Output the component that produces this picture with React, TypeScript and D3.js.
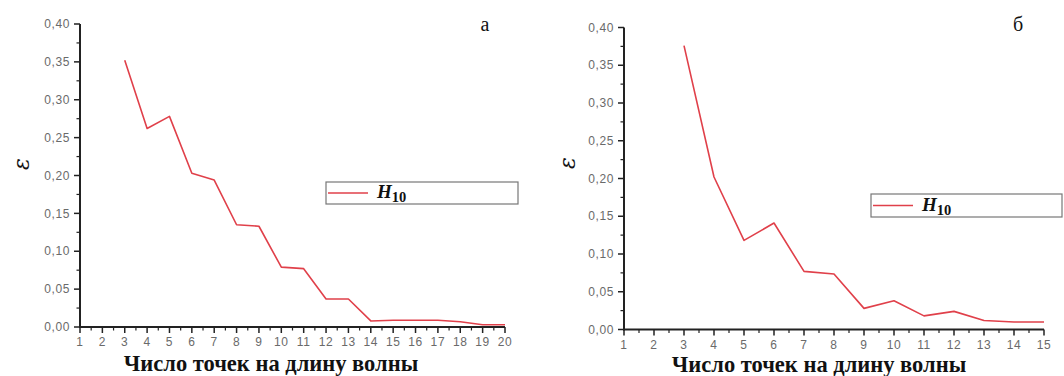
import React from "react";
import * as d3 from "d3";

const xA = [3, 4, 5, 6, 7, 8, 9, 10, 11, 12, 13, 14, 15, 16, 17, 18, 19, 20];
const yA = [0.352, 0.262, 0.278, 0.203, 0.194, 0.135, 0.133, 0.079, 0.077, 0.037, 0.037, 0.008, 0.009, 0.009, 0.009, 0.007, 0.003, 0.003];
const xB = [3, 4, 5, 6, 7, 8, 9, 10, 11, 12, 13, 14, 15];
const yB = [0.376, 0.202, 0.118, 0.141, 0.077, 0.0735, 0.028, 0.038, 0.018, 0.024, 0.012, 0.010, 0.010];
const yTicks = [0, 0.05, 0.1, 0.15, 0.2, 0.25, 0.3, 0.35, 0.4];
const xTitle = "Число точек на длину волны";
const yTitle = "ε";
const seriesName = "H";
const seriesSub = "10";

const fmt = (v: number) => v.toFixed(2).replace(".", ",");

type PanelProps = {
  xs: number[]; ys: number[]; xMax: number;
  x0: number; x1: number; y0: number; y1: number;
  letter: string; letterX: number;
  leg: { x: number; y: number; w: number; h: number };
  yLabelX: number; yLabelY: number; titleX: number; titleY: number;
};

function Panel(p: PanelProps) {
  const x = d3.scaleLinear().domain([1, p.xMax]).range([p.x0, p.x1]);
  const y = d3.scaleLinear().domain([0, 0.4]).range([p.y0, p.y1]);
  const line = d3.line<number>().x((_, i) => x(p.xs[i])).y((d) => y(d));
  const xt = d3.range(1, p.xMax + 1);
  const xMinor = d3.range(1.5, p.xMax, 1);
  const yMinor = d3.range(0.025, 0.4, 0.05);
  const tickFont = { fontFamily: "Liberation Sans, Arial, sans-serif", fontSize: 12, fill: "#6a6a6a", letterSpacing: 0.6 };
  return (
    <g>
      <line x1={p.x0} x2={p.x0} y1={p.y0 + 1} y2={p.y1} stroke="#222" strokeWidth={2} />
      <line x1={p.x0 - 1} x2={p.x1} y1={p.y0} y2={p.y0} stroke="#222" strokeWidth={2} />
      {yTicks.map((t) => (
        <g key={t}>
          <line x1={p.x0 - 6} x2={p.x0} y1={y(t)} y2={y(t)} stroke="#222" strokeWidth={1.5} />
          <text x={p.x0 - 10} y={y(t)} dy="0.35em" textAnchor="end" {...tickFont}>{fmt(t)}</text>
        </g>
      ))}
      {yMinor.map((t) => (
        <line key={t} x1={p.x0 - 3.5} x2={p.x0} y1={y(t)} y2={y(t)} stroke="#222" strokeWidth={1.2} />
      ))}
      {xt.map((t) => (
        <g key={t}>
          <line x1={x(t)} x2={x(t)} y1={p.y0} y2={p.y0 + 6} stroke="#222" strokeWidth={1.5} />
          <text x={x(t)} y={p.y0 + 19} textAnchor="middle" {...tickFont}>{t}</text>
        </g>
      ))}
      {xMinor.map((t) => (
        <line key={t} x1={x(t)} x2={x(t)} y1={p.y0} y2={p.y0 + 3.5} stroke="#222" strokeWidth={1.2} />
      ))}
      <path d={line(p.ys) || ""} fill="none" stroke="#e0404a" strokeWidth={1.6} strokeLinejoin="round" />
      <text x={p.titleX} y={p.titleY} textAnchor="middle"
        style={{ fontFamily: "Liberation Serif, Times New Roman, serif", fontWeight: "bold", fontSize: 22.5 }} fill="#111">{xTitle}</text>
      <text transform={`translate(${p.yLabelX},${p.yLabelY}) rotate(-90)`} textAnchor="middle"
        style={{ fontFamily: "DejaVu Serif, serif", fontSize: 22, fontStyle: "italic" }} fill="#111">{yTitle}</text>
      <text x={p.letterX} y={31} textAnchor="middle"
        style={{ fontFamily: "Liberation Serif, Times New Roman, serif", fontSize: 20 }} fill="#111">{p.letter}</text>
      <rect x={p.leg.x} y={p.leg.y} width={p.leg.w} height={p.leg.h} fill="#fff" stroke="#777" strokeWidth={1.2} />
      <line x1={p.leg.x + 2} x2={p.leg.x + 42} y1={p.leg.y + p.leg.h / 2} y2={p.leg.y + p.leg.h / 2} stroke="#e0404a" strokeWidth={1.6} />
      <text x={p.leg.x + 51} y={p.leg.y + p.leg.h / 2 + 5}
        style={{ fontFamily: "Liberation Serif, serif", fontWeight: "bold", fontSize: 19 }} fill="#111">
        <tspan fontStyle="italic">{seriesName}</tspan>
        <tspan fontSize={14.5} dy={4}>{seriesSub}</tspan>
      </text>
    </g>
  );
}

export default function App() {
  return (
    <svg width={1064} height={376} style={{ position: "absolute", left: 0, top: 0, background: "#fff" }}>
      <rect width={1064} height={376} fill="#fff" />
      <Panel xs={xA} ys={yA} xMax={20} x0={80} x1={505} y0={327} y1={24}
        letter="а" letterX={485} leg={{ x: 326, y: 182, w: 192, h: 22 }}
        yLabelX={29} yLabelY={164} titleX={271} titleY={371} />
      <Panel xs={xB} ys={yB} xMax={15} x0={624} x1={1044} y0={329.5} y1={27.5}
        letter="б" letterX={1018} leg={{ x: 871, y: 194, w: 191, h: 23 }}
        yLabelX={575} yLabelY={163} titleX={819} titleY={372} />
    </svg>
  );
}
